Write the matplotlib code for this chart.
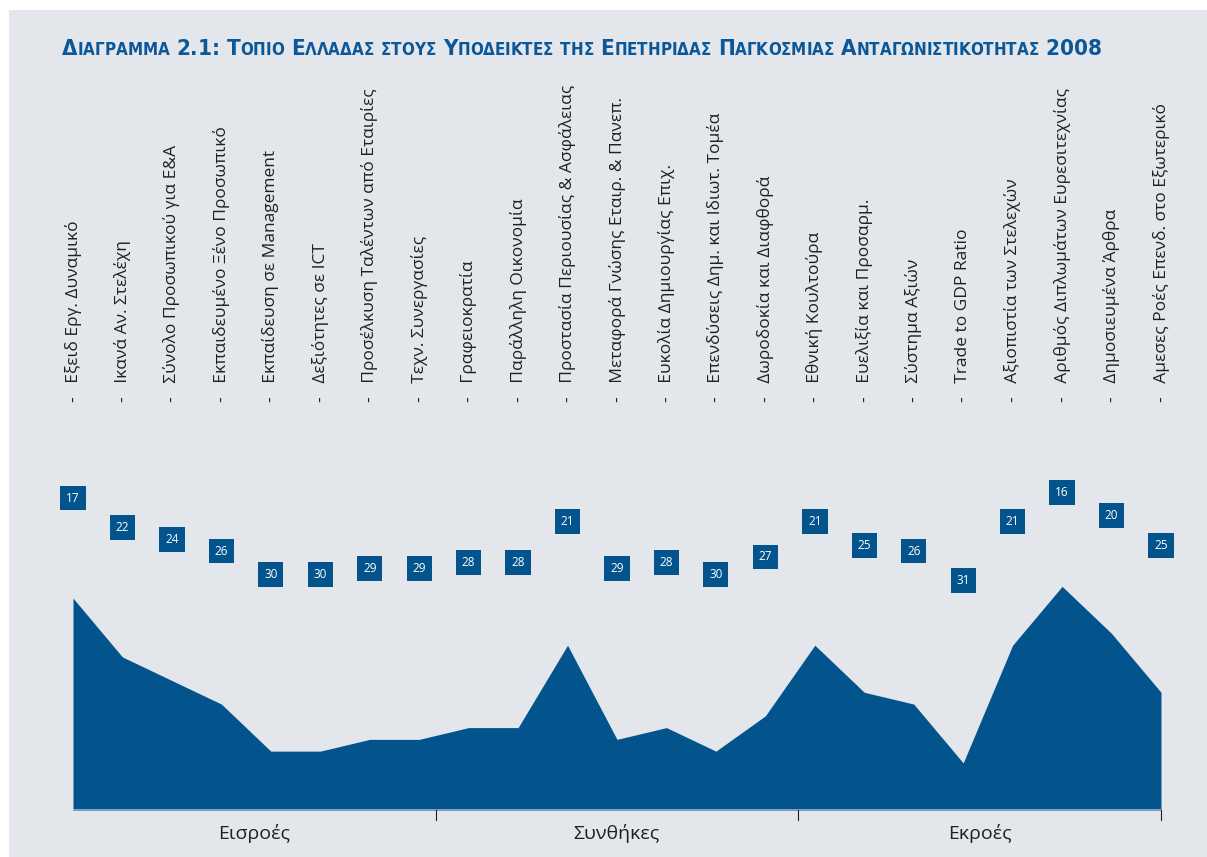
import matplotlib.pyplot as plt
import matplotlib.transforms as mtransforms
from matplotlib.patches import Rectangle

# rank of Greece in each sub-index (lower rank = better)
indicators = [
    "Εξειδ Εργ. Δυναμικό", "Ικανά Αν. Στελέχη", "Σύνολο Προσωπικού για Ε&Α",
    "Εκπαιδευμένο Ξένο Προσωπικό", "Εκπαίδευση σε Management", "Δεξιότητες σε ICT",
    "Προσέλκυση Ταλέντων από Εταιρίες", "Τεχν. Συνεργασίες", "Γραφειοκρατία",
    "Παράλληλη Οικονομία", "Προστασία Περιουσίας & Ασφάλειας",
    "Μεταφορά Γνώσης Εταιρ. & Πανεπ.", "Ευκολία Δημιουργίας Επιχ.",
    "Επενδύσεις Δημ. και Ιδιωτ. Τομέα", "Δωροδοκία και Διαφθορά", "Εθνική Κουλτούρα",
    "Ευελιξία και Προσαρμ.", "Σύστημα Αξιών", "Trade to GDP Ratio",
    "Αξιοπιστία των Στελεχών", "Αριθμός Διπλωμάτων Ευρεσιτεχνίας",
    "Δημοσιευμένα Άρθρα", "Αμεσες Ροές Επενδ. στο Εξωτερικό",
]
ranks = [17, 22, 24, 26, 30, 30, 29, 29, 28, 28, 21, 29, 28, 30, 27, 21, 25, 26, 31, 21, 16, 20, 25]
groups = ["Εισροές", "Συνθήκες", "Εκροές"]
title = "Διαγραμμα 2.1: Τοπιο Ελλαδας στους Υποδεικτες της Επετηριδας Παγκοσμιας Ανταγωνιστικοτητας 2008"

BLUE = "#03548d"
BG = "#e3e7ec"
TXT = "#231f20"
ceiling = 35

fig = plt.figure(figsize=(12.07, 8.57), dpi=100)
fig.patch.set_facecolor("white")
fig.patches.append(Rectangle((9 / 1207, 0), 1, 1 - 10 / 857, transform=fig.transFigure,
                             facecolor=BG, edgecolor="none", zorder=-10))

ax = fig.add_axes([73 / 1207, 47 / 857, (1161 - 73) / 1207, 412 / 857])
ax.set_facecolor("none")
x = list(range(len(ranks)))
heights = [ceiling - r for r in ranks]
ax.fill_between(x, 0, heights, color=BLUE, linewidth=0)
ax.set_xlim(0, len(ranks) - 1)
ax.set_ylim(0, ceiling)
ax.axhline(0, color="#9bb6cf", lw=1.2)
for s in ax.spines.values():
    s.set_visible(False)
ax.set_xticks([])
ax.set_yticks([])

# rank boxes
for xi, r in zip(x, ranks):
    ax.text(xi, ceiling - r / 2, str(r), ha="center", va="center", color="white",
            fontsize=8.5, family="Open Sans",
            bbox=dict(boxstyle="square,pad=0.5", facecolor=BLUE, edgecolor="none"))

# vertical indicator labels
blend = mtransforms.blended_transform_factory(ax.transData, ax.transAxes)
for xi, lab in zip(x, indicators):
    ax.text(xi, 0.99, "-   " + lab, rotation=90, ha="center", va="bottom",
            transform=blend, fontsize=12.5, color=TXT, family="Open Sans", clip_on=False)

# group dividers and names
for k in range(1, 4):
    ax.plot([k / 3, k / 3], [0, -0.025], transform=ax.transAxes, color=TXT, lw=0.8, clip_on=False)
for k, g in enumerate(groups):
    ax.text((2 * k + 1) / 6, -0.057, g, transform=ax.transAxes, ha="center", va="center",
            fontsize=14, color=TXT, family="Open Sans")

# title in small caps, built piece by piece and fitted to the reference width
fig.canvas.draw()
renderer = fig.canvas.get_renderer()


def draw_title(scale, x0=62, keep=True):
    pieces = []
    xpos = x0
    for word_i, word in enumerate(title.split(" ")):
        if word_i:
            xpos += 7 * scale
        for ch in word:
            small = ch.islower()
            t = fig.text(xpos / 1207, 1 - 55 / 857, ch.upper(),
                         fontsize=(12.5 if small else 16.5) * scale,
                         fontweight="bold", color="#0b5797", ha="left", va="baseline",
                         family="DejaVu Sans", fontstretch="condensed")
            xpos += t.get_window_extent(renderer).width
            pieces.append(t)
    if not keep:
        for t in pieces:
            t.remove()
    return xpos - x0


w = draw_title(1.0, keep=False)
draw_title(1035 / w)

fig.savefig("out.png", dpi=100, facecolor=fig.get_facecolor())
